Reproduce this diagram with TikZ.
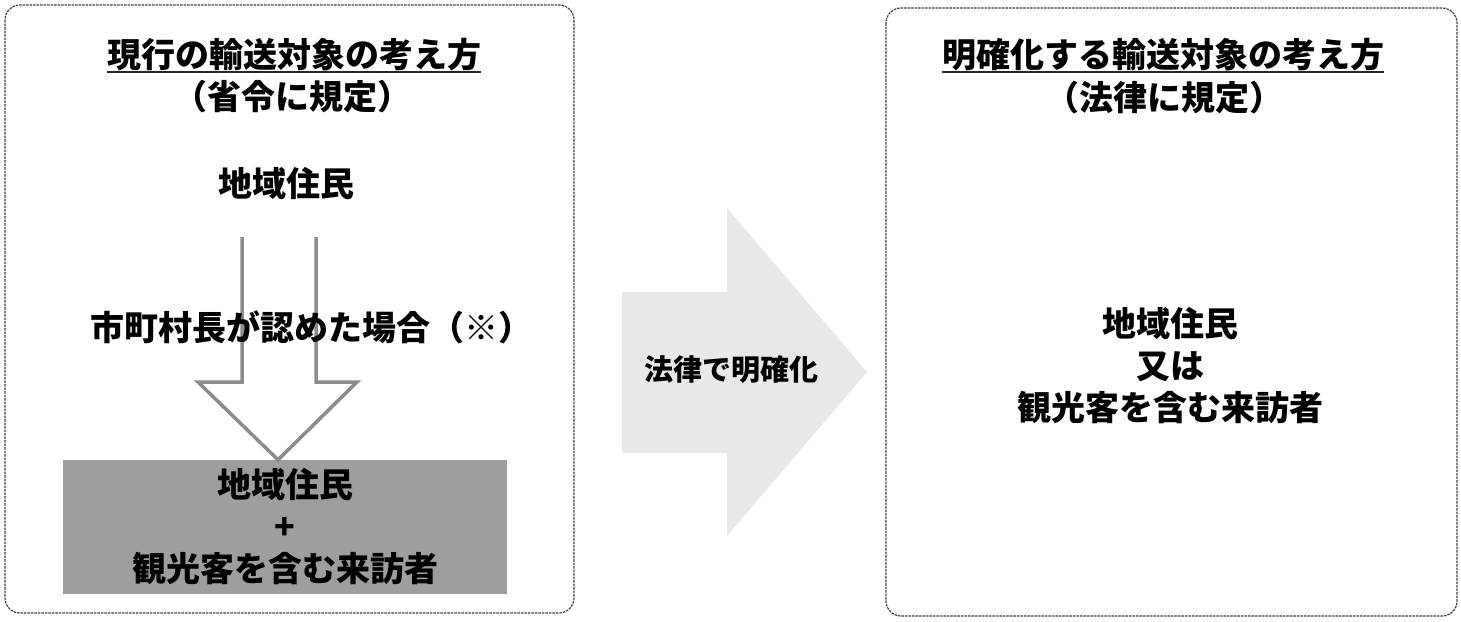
\documentclass[tikz,border=0pt]{standalone}
\usepackage{fontspec}
\setmainfont{Noto Sans CJK JP}
\usetikzlibrary{calc}
\tikzset{
  dbox/.style={draw=black!75, line width=1.2pt, dash pattern=on 2.5pt off 1pt, rounded corners=15pt},
  jtext/.style={font=\fontsize{34}{42}\selectfont\bfseries, inner sep=0pt, align=center, text=black},
  uline/.style={line width=2.6pt, black!85},
  hollow/.style={draw=black!45, line width=3.5pt, fill=white, line join=miter},
  bigarrow/.style={fill=black!9, draw=none},
  result/.style={fill=black!38, draw=none, minimum width=444pt, minimum height=134pt, inner sep=0pt, align=center,
     font=\fontsize{34}{42}\selectfont\bfseries}
}
\begin{document}
\begin{tikzpicture}[x=1pt,y=-1pt]
\useasboundingbox (0,0) rectangle (1461,621);
\fill[white] (0,0) rectangle (1461,621);

% frames
\draw[dbox] (5,5) rectangle (574,613);
\draw[dbox] (886,8) rectangle (1457,616);

% left panel
\node[jtext] (lt) at (294,55) {現行の輸送対象の考え方};
\draw[uline] ($(lt.west)+(0,17)$) -- ($(lt.east)+(0,17)$);
\node[jtext] (ls) at (292,97) {（省令に規定）};
\node[jtext] (lres) at (286,184) {地域住民};

\node[result] (lbox) at (285,527) {地域住民\\+\\観光客を含む来訪者};

% hollow down arrow from residents to result box
\coordinate (sl) at (242,237);
\coordinate (sr) at (316,237);
\draw[hollow] (sl) -- (242,382) -- (198,382) -- (lbox.north -| 278,0) -- (357,382) -- (316,382) -- (sr);

\node[jtext] (lcond) at (311,327) {市町村長が認めた場合（※）};

% middle arrow
\path[bigarrow] (622,292) -- (727,292) -- (727,208) -- (867,372) -- (727,536) -- (727,453) -- (622,453) -- cycle;
\node[jtext, font=\fontsize{29}{36}\selectfont\bfseries] (mid) at (731,370) {法律で明確化};

% right panel
\node[jtext] (rt) at (1163,55) {明確化する輸送対象の考え方};
\draw[uline] ($(rt.west)+(0,17)$) -- ($(rt.east)+(0,17)$);
\node[jtext] (rs) at (1164,98) {（法律に規定）};
\node[jtext] (rbody) at (1170,366) {地域住民\\又は\\観光客を含む来訪者};
\end{tikzpicture}
\end{document}
